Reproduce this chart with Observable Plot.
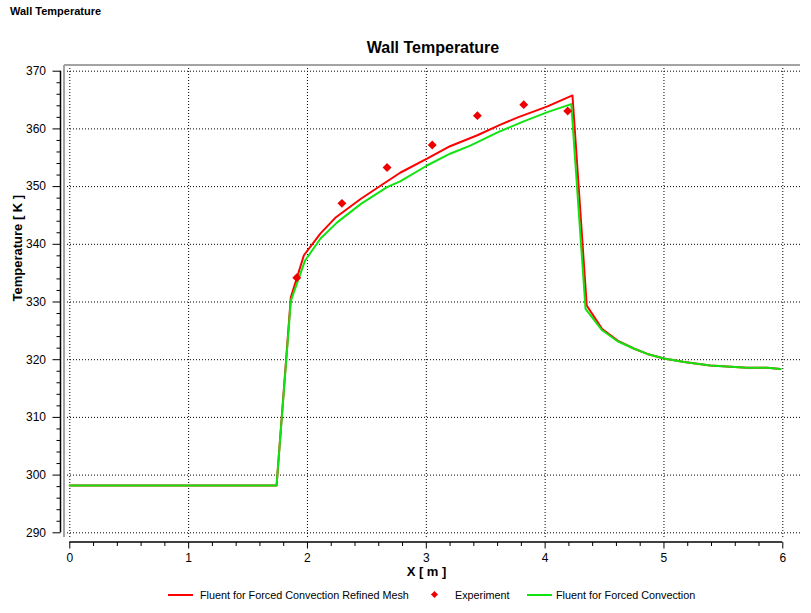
<!DOCTYPE html>
<html>
<head>
<meta charset="utf-8">
<script src="https://cdn.jsdelivr.net/npm/d3@7"></script>
<script src="https://cdn.jsdelivr.net/npm/@observablehq/plot@0.6"></script>
<style>
  html, body { margin: 0; padding: 0; background: #fff; }
  body { width: 811px; height: 613px; position: relative; overflow: hidden; font-family: "Liberation Sans", Arial, sans-serif; color: #000; }
  #top-title { position: absolute; left: 10px; top: 5px; font-size: 11px; font-weight: bold; line-height: 13px; }
  #title { position: absolute; left: 0; width: 866px; top: 39px; text-align: center; font-size: 16px; font-weight: bold; line-height: 18px; }
  #chart { position: absolute; left: 0; top: 60px; }
  #legend { position: absolute; left: 0; top: 587px; width: 811px; height: 16px; font-size: 10.8px; line-height: 16px; }
  #legend .sw { position: absolute; top: 7px; height: 2px; width: 25px; }
  #legend .lab { position: absolute; top: 0; white-space: nowrap; }
  #legend .dia { position: absolute; top: 5px; width: 5px; height: 5px; transform: rotate(45deg); }
</style>
</head>
<body>
<div id="top-title">Wall Temperature</div>
<div id="title">Wall Temperature</div>
<div id="chart"></div>
<div id="legend"></div>
<script>
// ---- data ----
const redX = [0, 1.74, 1.86, 1.97, 2.11, 2.24, 2.45, 2.64, 2.78, 3.01, 3.20, 3.43, 3.62, 3.77, 4.02, 4.23, 4.35, 4.48, 4.61, 4.75, 4.86, 5.0, 5.17, 5.39, 5.70, 5.87, 5.98];
const redY = [298.2, 298.2, 330.8, 338.1, 341.9, 344.7, 347.9, 350.5, 352.4, 354.9, 357.0, 358.9, 360.7, 362.0, 363.9, 365.8, 329.4, 325.3, 323.3, 321.9, 321.0, 320.2, 319.6, 319.0, 318.6, 318.6, 318.4];
const greenX = [0, 1.74, 1.86, 1.98, 2.11, 2.25, 2.45, 2.67, 2.78, 3.01, 3.20, 3.37, 3.60, 3.82, 4.02, 4.22, 4.34, 4.48, 4.61, 4.75, 4.86, 5.0, 5.17, 5.39, 5.70, 5.87, 5.98];
const greenY = [298.2, 298.2, 330.2, 337.2, 341.0, 343.8, 347.0, 349.9, 350.9, 353.7, 355.7, 357.1, 359.4, 361.3, 362.9, 364.3, 328.8, 325.1, 323.2, 321.9, 321.0, 320.2, 319.6, 319.0, 318.6, 318.6, 318.4];
const expX = [1.91, 2.29, 2.67, 3.05, 3.43, 3.82, 4.19];
const expY = [334.2, 347.1, 353.3, 357.2, 362.3, 364.2, 363.1];

const seriesNames = ["Fluent for Forced Convection Refined Mesh", "Experiment", "Fluent for Forced Convection"];
const seriesColors = ["#ff0000", "#ee0000", "#11e311"];

const xMajor = [0, 1, 2, 3, 4, 5, 6];
const xMinor = d3.range(0, 31).map(i => i / 5).filter(v => !xMajor.includes(v));
const yMajor = [290, 300, 310, 320, 330, 340, 350, 360, 370];
const yMinor = d3.range(290, 371, 2).filter(v => v % 10 !== 0);

const xLabel = "X [ m ]";
const yLabel = "Temperature [ K ]";

// ---- build ----
const zip = (xs, ys) => xs.map((x, i) => ({x, y: ys[i]}));
const red = zip(redX, redY);
const green = zip(greenX, greenY);
const exp = zip(expX, expY);

function decor(index, scales, values, dimensions) {
  const {width, height, marginLeft, marginRight, marginTop, marginBottom} = dimensions;
  const g = d3.create("svg:g");
  const bottom = height - marginBottom;
  // gray frame top & left
  g.append("line").attr("x1", marginLeft).attr("x2", width - marginRight)
    .attr("y1", marginTop).attr("y2", marginTop).attr("stroke", "#a3a3a3").attr("stroke-width", 2);
  g.append("line").attr("x1", marginLeft).attr("x2", marginLeft)
    .attr("y1", marginTop).attr("y2", bottom).attr("stroke", "#a3a3a3").attr("stroke-width", 2);
  // y axis line
  const [y0, y1] = d3.extent(yMajor);
  g.append("line").attr("x1", marginLeft - 3.5).attr("x2", marginLeft - 3.5)
    .attr("y1", scales.y(y1)).attr("y2", scales.y(y0)).attr("stroke", "#000").attr("stroke-width", 1.5);
  // x axis line
  const [x0, x1] = d3.extent(xMajor);
  g.append("line").attr("x1", scales.x(x0)).attr("x2", scales.x(x1))
    .attr("y1", bottom + 5).attr("y2", bottom + 5).attr("stroke", "#000").attr("stroke-width", 1.5);
  return g.node();
}

const chart = Plot.plot({
  width: 811,
  height: 530,
  marginLeft: 64,
  marginRight: 11,
  marginTop: 5,
  marginBottom: 53,
  style: {fontFamily: "'Liberation Sans', Arial, sans-serif", fontSize: "12px", color: "#000", background: "transparent"},
  x: {domain: d3.extent(xMajor), range: [69.3, 782.3]},
  y: {domain: d3.extent(yMajor), range: [472.3, 10.7]},
  marks: [
    Plot.gridX(xMajor, {stroke: "#000", strokeOpacity: 1, strokeDasharray: "1,2", strokeWidth: 1}),
    Plot.gridY(yMajor, {stroke: "#000", strokeOpacity: 1, strokeDasharray: "1,2", strokeWidth: 1}),
    decor,
    Plot.axisY({ticks: yMajor, tickSize: 8, tickPadding: 7, dx: -3.5, label: null, fontSize: 12, tickFormat: d3.format("d")}),
    Plot.axisY({ticks: yMinor, tickSize: 4, text: null, dx: -3.5, label: null}),
    Plot.axisX({ticks: xMajor, tickSize: 6.5, tickPadding: 4.5, dy: 5, label: null, fontSize: 12, tickFormat: d3.format("d")}),
    Plot.axisX({ticks: xMinor, tickSize: 4, text: null, dy: 5, label: null}),
    Plot.line(red, {x: "x", y: "y", stroke: seriesColors[0], strokeWidth: 2}),
    Plot.line(green, {x: "x", y: "y", stroke: seriesColors[2], strokeWidth: 2}),
    Plot.dot(exp, {x: "x", y: "y", symbol: "diamond2", r: 4, fill: seriesColors[1], stroke: "none"}),
    Plot.text([xLabel], {frameAnchor: "bottom", dx: -6, dy: 38, fontWeight: "bold", fontSize: 13}),
    Plot.text([yLabel], {frameAnchor: "left", rotate: -90, dx: -47, fontWeight: "bold", fontSize: 13})
  ]
});
document.getElementById("chart").appendChild(chart);

// ---- legend ----
const legend = d3.select("#legend");
const legendPos = [
  {sw: 168, lab: 200, kind: "line"},
  {sw: 432, lab: 455, kind: "dia"},
  {sw: 527, lab: 556, kind: "line"}
];
seriesNames.forEach((name, i) => {
  const p = legendPos[i];
  if (p.kind === "line") {
    legend.append("div").attr("class", "sw").style("left", p.sw + "px").style("background", seriesColors[i]);
  } else {
    legend.append("div").attr("class", "dia").style("left", p.sw + "px").style("background", seriesColors[i]);
  }
  legend.append("div").attr("class", "lab").style("left", p.lab + "px").text(name);
});
</script>
</body>
</html>
